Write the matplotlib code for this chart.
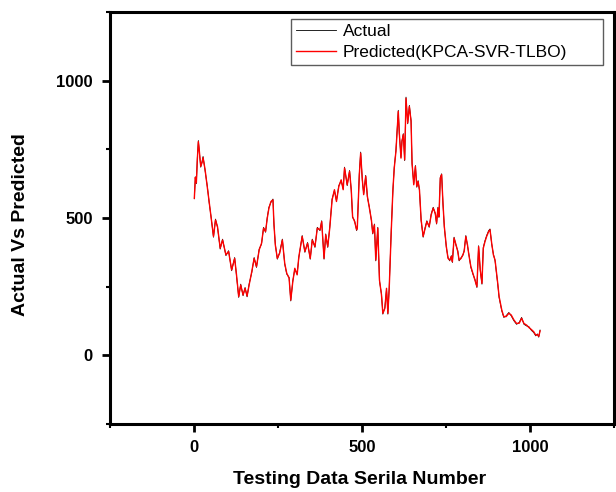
import matplotlib
matplotlib.use("Agg")
import matplotlib.pyplot as plt
from matplotlib.ticker import FixedLocator

serial = [
    1, 4, 7, 10, 13, 16, 20, 24, 27, 33,
    40, 45, 51, 58, 64, 70, 78, 85, 95, 103,
    112, 121, 126, 133, 139, 146, 152, 158, 164, 172,
    179, 186, 194, 201, 207, 213, 218, 223, 229, 235,
    238, 242, 248, 255, 263, 270, 276, 283, 288, 294,
    300, 307, 312, 322, 330, 338, 346, 352, 360, 367,
    375, 380, 387, 392, 398, 404, 411, 418, 424, 431,
    438, 444, 448, 456, 463, 468, 472, 478, 484, 486,
    492, 496, 501, 505, 511, 516, 522, 528, 532, 537,
    541, 547, 552, 558, 562, 568, 573, 577, 581, 587,
    592, 596, 601, 608, 611, 616, 619, 623, 627, 631,
    636, 641, 646, 649, 654, 659, 663, 667, 671, 676,
    682, 688, 693, 700, 706, 712, 718, 722, 726, 729,
    733, 737, 741, 745, 751, 756, 761, 766, 769, 774,
    780, 785, 789, 795, 800, 804, 809, 814, 818, 824,
    830, 836, 842, 847, 852, 857, 861, 866, 871, 877,
    881, 886, 891, 896, 904, 908, 916, 922, 929, 937,
    944, 952, 960, 968, 975, 982, 990, 997, 1004, 1011,
    1017, 1022, 1026, 1030,
]

actual = [
    570, 650, 625, 720, 782, 740, 685, 705, 724, 673,
    612, 557, 502, 430, 496, 466, 387, 423, 363, 381,
    308, 356, 296, 211, 259, 217, 247, 213, 259, 302,
    356, 320, 387, 405, 466, 448, 502, 539, 557, 569,
    475, 405, 350, 375, 423, 332, 296, 284, 198, 271,
    314, 296, 356, 436, 375, 411, 350, 423, 393, 466,
    454, 490, 350, 442, 393, 466, 569, 600, 563, 618,
    636, 606, 685, 618, 673, 600, 502, 490, 454, 466,
    661, 740, 636, 588, 655, 576, 539, 490, 442, 478,
    344, 466, 271, 223, 150, 174, 241, 150, 247, 454,
    600, 685, 746, 892, 807, 721, 782, 807, 709, 940,
    843, 910, 855, 697, 624, 691, 612, 636, 600, 490,
    430, 466, 490, 466, 515, 539, 515, 478, 539, 502,
    648, 661, 551, 466, 393, 356, 344, 363, 338, 430,
    399, 381, 344, 356, 363, 381, 436, 399, 369, 320,
    296, 277, 247, 399, 308, 259, 393, 417, 436, 454,
    460, 405, 369, 344, 259, 211, 162, 138, 144, 156,
    144, 126, 113, 120, 138, 113, 107, 104, 91, 83,
    71, 78, 66, 92,
]

predicted = [
    572, 648, 628, 716, 778, 742, 688, 702, 720, 676,
    610, 560, 500, 433, 493, 468, 390, 420, 366, 378,
    311, 353, 299, 214, 256, 220, 244, 216, 256, 305,
    353, 323, 384, 408, 463, 451, 499, 536, 560, 566,
    478, 402, 353, 372, 420, 335, 299, 281, 201, 268,
    317, 293, 359, 433, 378, 408, 353, 420, 396, 463,
    457, 487, 353, 439, 396, 463, 566, 603, 560, 615,
    639, 603, 682, 621, 670, 603, 505, 487, 457, 463,
    658, 736, 639, 585, 652, 579, 536, 493, 445, 475,
    347, 463, 274, 220, 153, 171, 244, 153, 244, 451,
    603, 682, 743, 888, 810, 718, 779, 804, 712, 936,
    846, 906, 852, 700, 621, 688, 615, 633, 603, 493,
    433, 463, 487, 469, 512, 536, 518, 481, 536, 505,
    645, 658, 554, 469, 396, 353, 347, 360, 341, 427,
    402, 378, 347, 353, 366, 378, 433, 402, 366, 323,
    299, 274, 250, 396, 311, 262, 390, 414, 433, 451,
    457, 408, 366, 347, 262, 214, 165, 141, 141, 153,
    147, 129, 116, 117, 135, 116, 110, 101, 94, 86,
    74, 75, 69, 89,
]

x_ticks = [0, 500, 1000]
y_ticks = [0, 500, 1000]
x_minor = [-250, 250, 750, 1250]
y_minor = [-250, 250, 750, 1250]

narrow = ["Liberation Sans Narrow", "Liberation Sans", "DejaVu Sans"]

fig = plt.figure(figsize=(6.16, 4.92), dpi=100)
ax = fig.add_axes([110 / 616, 1 - 424 / 492, 504 / 616, 412 / 492])

ax.plot(serial, actual, color="black", lw=0.6, label="Actual")
ax.plot(serial, predicted, color="#ff0000", lw=1.0, label="Predicted(KPCA-SVR-TLBO)")

ax.set_xlim(-250, 1250)
ax.set_ylim(-250, 1250)
ax.xaxis.set_major_locator(FixedLocator(x_ticks))
ax.yaxis.set_major_locator(FixedLocator(y_ticks))
ax.xaxis.set_minor_locator(FixedLocator(x_minor))
ax.yaxis.set_minor_locator(FixedLocator(y_minor))
ax.set_xticklabels([str(v) for v in x_ticks])
ax.set_yticklabels([str(v) for v in y_ticks])

for s in ax.spines.values():
    s.set_linewidth(2.2)
ax.tick_params(which="major", direction="out", length=5.5, width=2, pad=6)
ax.tick_params(which="minor", direction="out", length=3, width=1.5)
ax.tick_params(axis="y", which="major", pad=7)
for lab in ax.get_xticklabels() + ax.get_yticklabels():
    lab.set_family(narrow)
    lab.set_fontweight("bold")
    lab.set_fontsize(12)

leg = ax.legend(loc="upper left", bbox_to_anchor=(0.359, 0.871, 0.619, 0.112),
                mode="expand", borderaxespad=0, frameon=True, fancybox=False, borderpad=0.3,
                handlelength=2.3, handletextpad=0.4, labelspacing=0.3,
                prop={"family": narrow, "size": 12.5})
leg.get_frame().set_edgecolor("#333333")
leg.get_frame().set_linewidth(1.0)

fig.text(360 / 616, 1 - 480 / 492, "Testing Data Serila Number", ha="center", va="center",
         family=narrow, fontweight="bold", fontsize=14)
fig.text(21 / 616, 1 - 225 / 492, "Actual Vs Predicted", ha="center", va="center",
         rotation=90, family=["Liberation Sans", "DejaVu Sans"], fontweight="bold", fontsize=14)

fig.savefig("out.png", dpi=100)
